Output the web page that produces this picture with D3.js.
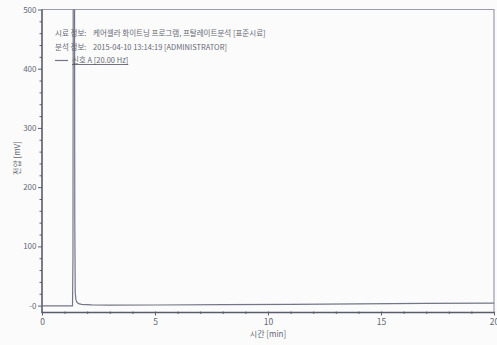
<!DOCTYPE html>
<html>
<head>
<meta charset="utf-8">
<script src="https://cdn.jsdelivr.net/npm/d3@7"></script>
<style>
  html, body { margin: 0; padding: 0; background: #fbfbfc; }
  svg { display: block; }
  text { font-family: "Noto Sans CJK KR", "Noto Sans", sans-serif; fill: #666873; }
</style>
</head>
<body>
<svg id="chart" width="497" height="345"></svg>
<script>
// Chromatogram: signal A, retention time (min) vs detector voltage (mV)
const timeMin = [0, 0.8, 1.35, 1.37, 1.39, 1.41, 1.43, 1.45, 1.47, 1.50, 1.55, 1.62, 1.75, 2.2, 3, 5, 8, 11, 14, 17, 20];
const voltageMV = [-0.6, -0.6, -0.5, 80, 900, 1500, 900, 150, 22, 10, 5.5, 3.2, 2, 1.2, 0.8, 1, 1.6, 2.2, 2.9, 3.6, 4.2];

const yTickValues = [0, 100, 200, 300, 400, 500];
const yTickLabels = ["-0", "100", "200", "300", "400", "500"];
const xTickValues = [0, 5, 10, 15, 20];
const xTickLabels = ["0", "5", "10", "15", "20"];

const legendLines = [
  ["시료 정보:", "케어셀라 화이트닝 프로그램, 프탈레이트분석 [표준시료]"],
  ["분석 정보:", "2015-04-10 13:14:19 [ADMINISTRATOR]"]
];
const seriesName = "신호 A [20.00 Hz]";
const xTitle = "시간 [min]";
const yTitle = "전압 [mV]";

const svg = d3.select("#chart");
const plotL = 42, plotR = 494, plotT = 9.5, plotB = 311.5;

const x = d3.scaleLinear().domain([0, 20]).range([plotL, plotR]);
const y = d3.scaleLinear().domain([-10, 500]).range([plotB, plotT]);

// clip for the trace
svg.append("defs").append("clipPath").attr("id", "plotClip")
  .append("rect").attr("x", plotL).attr("y", plotT)
  .attr("width", plotR - plotL).attr("height", plotB - plotT);

// top and right frame
svg.append("path")
  .attr("d", `M${plotL},${plotT}H${plotR}V${plotB}`)
  .attr("fill", "none").attr("stroke", "#9a9cab").attr("stroke-width", 1.2);

// y axis
const yAxis = d3.axisLeft(y)
  .tickValues(yTickValues)
  .tickFormat((d, i) => yTickLabels[i])
  .tickSize(4).tickPadding(1.5);
const yMinor = d3.axisLeft(y)
  .tickValues(d3.range(0, 501, 20).filter(v => v % 100 !== 0))
  .tickFormat("").tickSize(2.5);

const gy = svg.append("g").attr("transform", `translate(${plotL},0)`);
gy.call(yAxis);
gy.append("g").call(yMinor);
gy.selectAll(".domain").remove();
gy.selectAll("line").attr("stroke", "#5e6070").attr("stroke-width", 1);
gy.selectAll("text").style("font-size", "8px").attr("fill", "#6a6c76");

// x axis
const xAxis = d3.axisBottom(x)
  .tickValues(xTickValues)
  .tickFormat((d, i) => xTickLabels[i])
  .tickSize(4).tickPadding(3);
const xMinor = d3.axisBottom(x)
  .tickValues(d3.range(0, 21, 1).filter(v => v % 5 !== 0))
  .tickFormat("").tickSize(2.5);

const gx = svg.append("g").attr("transform", `translate(0,${plotB})`);
gx.call(xAxis);
gx.append("g").call(xMinor);
gx.selectAll(".domain").remove();
gx.selectAll("line").attr("stroke", "#5e6070").attr("stroke-width", 1);
gx.selectAll("text").style("font-size", "8.5px").attr("fill", "#6a6c76");

// main axis lines (left and bottom)
svg.append("path")
  .attr("d", `M${plotL},${plotT}V${plotB + 1}H${plotR}`)
  .attr("fill", "none").attr("stroke", "#5a5c6c").attr("stroke-width", 1.6);

// trace
const line = d3.line().x((d, i) => x(timeMin[i])).y(d => y(d));
svg.append("path")
  .datum(voltageMV)
  .attr("clip-path", "url(#plotClip)")
  .attr("d", line)
  .attr("fill", "none")
  .attr("stroke", "#737687")
  .attr("stroke-width", 1.2);

// axis titles
svg.append("text")
  .attr("x", (plotL + plotR) / 2).attr("y", 337)
  .attr("text-anchor", "middle")
  .style("font-size", "8px")
  .text(xTitle);

svg.append("text")
  .attr("transform", `translate(20,${158}) rotate(-90)`)
  .attr("text-anchor", "middle")
  .style("font-size", "8px")
  .text(yTitle);

// info block
const info = svg.append("g").style("font-size", "7.5px");
legendLines.forEach((row, i) => {
  const ty = 36 + i * 13.5;
  info.append("text").attr("x", 55).attr("y", ty).attr("fill", "#5f616b").text(row[0]);
  info.append("text").attr("x", 93).attr("y", ty).attr("fill", "#5f616b").text(row[1]);
});

// series legend entry
svg.append("line")
  .attr("x1", 55).attr("x2", 68).attr("y1", 60.5).attr("y2", 60.5)
  .attr("stroke", "#737687").attr("stroke-width", 1.2);
const sName = svg.append("text")
  .attr("x", 72).attr("y", 63)
  .style("font-size", "7.5px")
  .attr("fill", "#4f515c")
  .text(seriesName);
const bb = sName.node().getBBox();
svg.append("line")
  .attr("x1", bb.x).attr("x2", bb.x + bb.width)
  .attr("y1", 64.5).attr("y2", 64.5)
  .attr("stroke", "#4f515c").attr("stroke-width", 0.8);
</script>
</body>
</html>
